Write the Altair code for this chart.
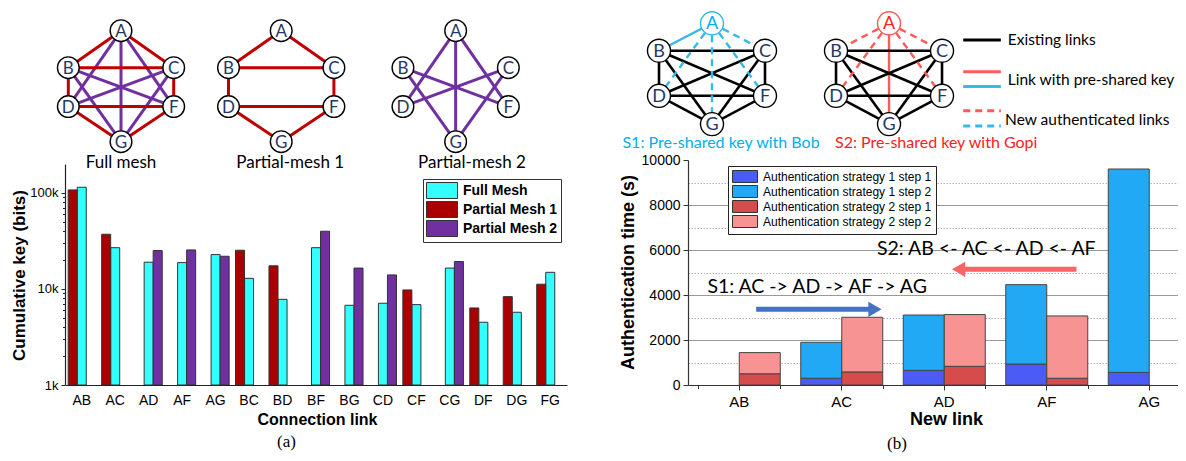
import altair as alt
import pandas as pd

# ---------------- panel (a): cumulative key per connection link ----------------
LINKS_A = ["AB", "AC", "AD", "AF", "AG", "BC", "BD", "BF", "BG", "CD", "CF", "CG", "DF", "DG", "FG"]
FULL_MESH = [114600, 26900, 19000, 18800, 22800, 12900, 7800, 26900, 6760, 7100, 6870, 16500, 4500, 5720, 14900]
PARTIAL_MESH_1 = [107500, 37100, None, None, None, 25300, 17400, None, None, None, 9770, None, 6340, 8320, 11200]
PARTIAL_MESH_2 = [None, None, 25100, 25500, 21900, None, None, 39900, 16500, 14000, None, 19300, None, None, None]
SERIES_A = ["Full Mesh", "Partial Mesh 1", "Partial Mesh 2"]
SLOT_ORDER_A = ["Partial Mesh 1", "Full Mesh", "Partial Mesh 2"]
COLORS_A = ["#33FFFF", "#AA0000", "#7030A0"]
Y_TICKS_A = [1000, 10000, 100000]
Y_MINOR_A = [2000, 3000, 4000, 5000, 6000, 7000, 8000, 9000,
             20000, 30000, 40000, 50000, 60000, 70000, 80000, 90000]

# ---------------- panel (b): authentication time per new link ----------------
LINKS_B = ["AB", "AC", "AD", "AF", "AG"]
S1_STEP1 = [None, 300, 650, 930, 560]
S1_STEP2 = [None, 1600, 2460, 3530, 9040]
S2_STEP1 = [500, 580, 830, 300, None]
S2_STEP2 = [940, 2430, 2300, 2770, None]
STRATEGIES = ["Strategy 1", "Strategy 2"]
SERIES_B = ["Authentication strategy 1 step 1", "Authentication strategy 1 step 2",
            "Authentication strategy 2 step 1", "Authentication strategy 2 step 2"]
COLORS_B = ["#4B5CF6", "#22A9F6", "#D64B4B", "#F79393"]
Y_TICKS_B = [0, 2000, 4000, 6000, 8000, 10000]
Y_GRID_B = [2000, 4000, 6000, 8000]
Y_MINOR_B = [1000, 3000, 5000, 7000, 9000]
ROUTE_TEXT = ["S1: AC -> AD -> AF -> AG", "S2: AB <- AC <- AD <- AF"]
ROUTE_TEXT_X = [1.76, 3.41]
ROUTE_TEXT_Y = [4370, 6030]
ARROW_FROM = [1.165, 4.29]
ARROW_TO = [2.394, 3.07]
ARROW_Y = [3364, 5142]
ROUTE_COLORS = ["#4472C4", "#FA6464"]

# ---------------- network diagrams ----------------
NODES = ["A", "B", "C", "D", "F", "G"]
LEFT_LAYOUT_X = [0, -1, 1, -1, 1, 0]
LEFT_LAYOUT_Y = [0, 1, 1, 2.05, 2.05, 3]
MESH_NAMES = ["Full mesh", "Partial-mesh 1", "Partial-mesh 2"]
MESH_X = [0, 3.04, 6.35]
MESH_CAPTION_X = [0, 3.21, 6.66]
MESH_CAPTION_Y = [3.58, 3.58, 3.58]
MESH_RED = "#C00000"
MESH_PURPLE = "#7030A0"

RIGHT_LAYOUT_X = [0, -1, 1, -1, 1, 0]
RIGHT_LAYOUT_Y = [0, 0.98, 0.98, 2.59, 2.59, 3.6]
STRATEGY_X = [0, 3.34]
STRATEGY_LINE_COLORS = ["#35B9EC", "#FF5A5A"]
STRATEGY_CAPTIONS = ["S1: Pre-shared key with Bob", "S2: Pre-shared key with Gopi"]
STRATEGY_CAPTION_COLORS = ["#00B0F0", "#FF2020"]
STRATEGY_CAPTION_X = [0.17, 4.23]
STRATEGY_CAPTION_Y = [4.28, 4.28]
KEY_LABELS = ["Existing links", "Link with pre-shared key", "New authenticated links"]
KEY_LABEL_Y = [0.6, 2.03, 3.45]
KEY_LABEL_X = [5.58, 5.58, 5.53]
KEY_LINE_Y = [0.6, 1.73, 2.26, 3.12, 3.67]
KEY_LINE_COLORS = ["black", "#FF5A5A", "#35B9EC", "#FF5A5A", "#35B9EC"]
KEY_LINE_DASHED = [False, False, False, True, True]
KEY_LINE_X = [4.74, 5.45]
PANEL_LABELS = ["(a)", "(b)"]
PANEL_LABEL_X = [3.14, 3.49]
PANEL_LABEL_Y = [11.12, 15.02]

NAVY = "#1F3864"
SANS = "Liberation Sans"
CAL = "Lato"
SERIF = "Liberation Serif"

# ============ tables ============
rows = []
for i, link in enumerate(LINKS_A):
    for name, vals in zip(SERIES_A, [FULL_MESH, PARTIAL_MESH_1, PARTIAL_MESH_2]):
        if vals[i] is not None:
            rows.append({"link": link, "series": name, "key": vals[i]})
dfA = pd.DataFrame(rows)

rows = []
for i, link in enumerate(LINKS_B):
    for s, steps in enumerate([(S1_STEP1, S1_STEP2), (S2_STEP1, S2_STEP2)]):
        for k, vals in enumerate(steps):
            if vals[i] is not None:
                rows.append({"link": link, "strategy": STRATEGIES[s], "step": k + 1,
                             "series": SERIES_B[2 * s + k], "time": vals[i]})
dfB = pd.DataFrame(rows)

# mesh diagrams (links come from which series has a bar)
pm1_links = [l for l, v in zip(LINKS_A, PARTIAL_MESH_1) if v is not None]
pm2_links = [l for l, v in zip(LINKS_A, PARTIAL_MESH_2) if v is not None]
mesh_links = [LINKS_A, pm1_links, pm2_links]
rows = []
for g, links in enumerate(mesh_links):
    for l in links:
        a, b = NODES.index(l[0]), NODES.index(l[1])
        rows.append({"x": MESH_X[g] + LEFT_LAYOUT_X[a], "y": LEFT_LAYOUT_Y[a],
                     "x2": MESH_X[g] + LEFT_LAYOUT_X[b], "y2": LEFT_LAYOUT_Y[b],
                     "color": MESH_RED if l in pm1_links else MESH_PURPLE})
edgesA = pd.DataFrame(rows)
nodesA = pd.DataFrame([{"x": MESH_X[g] + LEFT_LAYOUT_X[n], "y": LEFT_LAYOUT_Y[n], "label": NODES[n]}
                       for g in range(3) for n in range(6)])
capsA = pd.DataFrame({"x": MESH_CAPTION_X, "y": MESH_CAPTION_Y, "text": MESH_NAMES})
pnlA = pd.DataFrame({"x": [PANEL_LABEL_X[0]], "y": [PANEL_LABEL_Y[0]], "text": [PANEL_LABELS[0]]})

# strategy diagrams
rows = []
for s, strat_vals in enumerate([S1_STEP1, S2_STEP1]):
    new_links = [l for l, v in zip(LINKS_B, strat_vals) if v is not None]
    for l in LINKS_A:
        a, b = NODES.index(l[0]), NODES.index(l[1])
        if "A" in l:
            color = STRATEGY_LINE_COLORS[s]
            dashed = l in new_links
        else:
            color, dashed = "black", False
        rows.append({"x": STRATEGY_X[s] + RIGHT_LAYOUT_X[a], "y": RIGHT_LAYOUT_Y[a],
                     "x2": STRATEGY_X[s] + RIGHT_LAYOUT_X[b], "y2": RIGHT_LAYOUT_Y[b],
                     "color": color, "dashed": dashed, "w": 2.6 if color == "black" else 2.4})
for k in range(5):
    rows.append({"x": KEY_LINE_X[0], "y": KEY_LINE_Y[k], "x2": KEY_LINE_X[1], "y2": KEY_LINE_Y[k],
                 "color": KEY_LINE_COLORS[k], "dashed": KEY_LINE_DASHED[k], "w": 3.0})
edgesB = pd.DataFrame(rows)
nodesB = pd.DataFrame([{"x": STRATEGY_X[s] + RIGHT_LAYOUT_X[n], "y": RIGHT_LAYOUT_Y[n], "label": NODES[n],
                        "stroke": STRATEGY_LINE_COLORS[s] if NODES[n] == "A" else "black",
                        "tcolor": STRATEGY_CAPTION_COLORS[s] if NODES[n] == "A" else NAVY}
                       for s in range(2) for n in range(6)])
capsB = pd.DataFrame({"x": STRATEGY_CAPTION_X, "y": STRATEGY_CAPTION_Y, "text": STRATEGY_CAPTIONS,
                      "color": STRATEGY_CAPTION_COLORS})
keyB = pd.DataFrame({"x": KEY_LABEL_X, "y": KEY_LABEL_Y, "text": KEY_LABELS})
pnlB = pd.DataFrame({"x": [PANEL_LABEL_X[1]], "y": [PANEL_LABEL_Y[1]], "text": [PANEL_LABELS[1]]})

routes = pd.DataFrame({"text": ROUTE_TEXT, "tx": ROUTE_TEXT_X, "ty": ROUTE_TEXT_Y,
                       "from": ARROW_FROM, "to": ARROW_TO, "y": ARROW_Y, "color": ROUTE_COLORS})

# ============ diagram (a) ============
dxA = alt.Scale(domain=[-1, 7.5], range=[60.3, 508.25])
dyA = alt.Scale(domain=[0, 3], range=[22.7, 133.7])
XA = alt.X("x:Q", scale=dxA, axis=None)
YA = alt.Y("y:Q", scale=dyA, axis=None)
diagA = alt.layer(
    alt.Chart(edgesA).mark_rule(strokeWidth=3).encode(
        x=XA, y=YA, x2="x2:Q", y2="y2:Q", color=alt.Color("color:N", scale=None)),
    alt.Chart(nodesA).mark_circle(color="white", stroke="black", strokeWidth=1.4, opacity=1, size=470).encode(
        x=XA, y=YA),
    alt.Chart(nodesA).mark_text(font=CAL, fontSize=17, color=NAVY, baseline="middle", align="center", dy=1).encode(
        x=XA, y=YA, text="label:N"),
    alt.Chart(capsA).mark_text(font=CAL, fontSize=17, color="black", baseline="middle", align="center").encode(
        x=XA, y=YA, text="text:N"),
    alt.Chart(pnlA).mark_text(font=SERIF, fontSize=17, color="black", baseline="middle", align="center").encode(
        x=XA, y=YA, text="text:N"),
)

# ============ chart (a) ============
xA = alt.X("link:N", sort=LINKS_A, title="Connection link",
           scale=alt.Scale(range=[57, 559], paddingInner=0.19, paddingOuter=0.095),
           axis=alt.Axis(orient="bottom", offset=-68, tickSize=0, domainColor="#222", domainWidth=1.2,
                         labelAngle=0, labelFont=SANS, labelFontSize=14, labelColor="black",
                         labelBaseline="middle", labelPadding=15,
                         titleFont=SANS, titleFontSize=16, titleFontWeight="bold", titleColor="black",
                         titleX=309, titleY=34, titleBaseline="middle", titleAlign="center", zindex=2))
yA = alt.Y("key:Q", title="Cumulative key (bits)",
           scale=alt.Scale(type="log", domain=[1000, 200000], range=[377, 156], nice=False),
           axis=alt.Axis(orient="left", offset=-57, values=Y_TICKS_A,
                         labelExpr="format(datum.value / 1000, 'd') + 'k'",
                         tickSize=4, tickColor="#222", domainColor="#222", domainWidth=1.2, grid=False,
                         labelFont=SANS, labelFontSize=13, labelColor="black", labelPadding=3,
                         titleFont=SANS, titleFontSize=17, titleFontWeight="bold", titleColor="black",
                         titleX=-46, titleY=267, titleAngle=-90, titleAlign="center", titleBaseline="middle",
                         zindex=2))
barsA = alt.Chart(dfA).mark_bar(stroke="#333", strokeWidth=1).encode(
    x=xA,
    xOffset=alt.XOffset("series:N", sort=SLOT_ORDER_A,
                        scale=alt.Scale(domain=SLOT_ORDER_A, paddingInner=0, paddingOuter=0)),
    y=yA,
    y2=alt.datum(1000),
    color=alt.Color("series:N", scale=alt.Scale(domain=SERIES_A, range=COLORS_A),
                    legend=alt.Legend(orient="none", legendX=415, legendY=171, title=None,
                                      strokeColor="#333", fillColor="white", padding=3,
                                      symbolType="M-1,-1L2.875,-1L2.875,1L-1,1Z", symbolSize=256,
                                      symbolStrokeColor="#333", symbolStrokeWidth=1, symbolOpacity=1,
                                      labelFont=SANS, labelFontSize=14, labelFontWeight="bold",
                                      labelColor="black", labelOffset=20, labelLimit=0, rowPadding=-2.5)),
)
minorA = alt.Chart(dfA).mark_bar(opacity=0).encode(
    y=alt.Y("key:Q", axis=alt.Axis(orient="left", offset=-57, values=Y_MINOR_A, labels=False,
                                   domain=False, tickSize=2.5, tickColor="#222", grid=False, title=None)),
    y2=alt.datum(1000),
)
chartA = alt.layer(barsA, minorA).resolve_axis(y="independent")

# ============ diagram (b) ============
dxB = alt.Scale(domain=[-1, 6], range=[651, 1022])
dyB = alt.Scale(domain=[0, 4], range=[15.3, 127.3])
XB = alt.X("x:Q", scale=dxB, axis=None)
YB = alt.Y("y:Q", scale=dyB, axis=None)
diagB = alt.layer(
    alt.Chart(edgesB).transform_filter("!datum.dashed").mark_rule().encode(
        x=XB, y=YB, x2="x2:Q", y2="y2:Q", color=alt.Color("color:N", scale=None),
        strokeWidth=alt.StrokeWidth("w:Q", scale=None)),
    alt.Chart(edgesB).transform_filter("datum.dashed").mark_rule(strokeDash=[7, 5]).encode(
        x=XB, y=YB, x2="x2:Q", y2="y2:Q", color=alt.Color("color:N", scale=None),
        strokeWidth=alt.StrokeWidth("w:Q", scale=None)),
    alt.Chart(nodesB).mark_circle(color="white", strokeWidth=1.4, opacity=1, size=530).encode(
        x=XB, y=YB, stroke=alt.Stroke("stroke:N", scale=None)),
    alt.Chart(nodesB).mark_text(font=CAL, fontSize=18, baseline="middle", align="center", dy=1).encode(
        x=XB, y=YB, text="label:N", color=alt.Color("tcolor:N", scale=None)),
    alt.Chart(capsB).mark_text(font=CAL, fontSize=16, baseline="middle", align="center").encode(
        x=XB, y=YB, text="text:N", color=alt.Color("color:N", scale=None)),
    alt.Chart(keyB).mark_text(font=CAL, fontSize=15.5, baseline="middle", align="left", color="black").encode(
        x=XB, y=YB, text="text:N"),
    alt.Chart(pnlB).mark_text(font=SERIF, fontSize=17, baseline="middle", align="center",
                              color="black").encode(x=XB, y=YB, text="text:N"),
)

# ============ chart (b) ============
xB_enc = alt.X("link:N", sort=LINKS_B, title="New link",
               scale=alt.Scale(range=[680, 1192.5], paddingInner=0.2, paddingOuter=0.1),
               axis=alt.Axis(orient="bottom", offset=-68, tickSize=5, tickColor="#333", domainColor="#333",
                             domainWidth=1.2, labelAngle=0, labelFont=SANS, labelFontSize=15,
                             labelColor="black", labelBaseline="middle", labelPadding=11,
                             titleFont=SANS, titleFontSize=18, titleFontWeight="bold", titleColor="black",
                             titleX=938, titleY=34, titleBaseline="middle", titleAlign="center", zindex=2))
yB_enc = alt.Y("y0:Q", title="Authentication time (s)",
               scale=alt.Scale(domain=[0, 10000], range=[377, 152], nice=False),
               axis=alt.Axis(orient="left", offset=-680, values=Y_TICKS_B, format="d", tickSize=5,
                             tickColor="#333", domainColor="#333", domainWidth=1.2, grid=False,
                             labelFont=SANS, labelFontSize=14, labelColor="black", labelPadding=3,
                             titleFont=SANS, titleFontSize=18, titleFontWeight="bold", titleColor="black",
                             titleX=-60, titleY=264, titleAngle=-90, titleAlign="center",
                             titleBaseline="middle", zindex=2))
barsB = alt.Chart().mark_bar(stroke="#444", strokeWidth=1).encode(
    x=xB_enc,
    xOffset=alt.XOffset("strategy:N", sort=STRATEGIES,
                        scale=alt.Scale(domain=STRATEGIES, paddingInner=0, paddingOuter=0)),
    y=yB_enc,
    y2="y1:Q",
    color=alt.Color("series:N", scale=alt.Scale(domain=SERIES_B, range=COLORS_B),
                    legend=alt.Legend(orient="none", legendX=720, legendY=158, title=None,
                                      strokeColor="#222", fillColor="white", padding=4,
                                      symbolType="M-1,-1L3.1667,-1L3.1667,1L-1,1Z", symbolSize=144,
                                      symbolStrokeColor="#333", symbolStrokeWidth=1, symbolOpacity=1,
                                      labelFont=SANS, labelFontSize=12, labelColor="black",
                                      labelOffset=18, labelLimit=0, rowPadding=-2.1)),
)
gridB = alt.Chart().mark_bar(opacity=0).encode(
    x=alt.X("link:N", sort=LINKS_B,
            axis=alt.Axis(orient="bottom", offset=-68, tickBand="extent", tickSize=3.5, tickColor="#333",
                          labels=False, domain=False, title=None, grid=False)),
    y=alt.Y("y0:Q", axis=alt.Axis(orient="left", offset=-680, values=Y_GRID_B, grid=True,
                                  gridColor="#9A9A9A", gridWidth=1, ticks=False, labels=False,
                                  domain=False, title=None, zindex=0)),
    y2="y1:Q",
)
minorB = alt.Chart().mark_bar(opacity=0).encode(
    x=alt.X("link:N", sort=LINKS_B, axis=None),
    y=alt.Y("y0:Q", axis=alt.Axis(orient="left", offset=-680, values=Y_MINOR_B, grid=True,
                                  gridColor="#B5B5B5", gridDash=[1.5, 1.5], gridWidth=1, ticks=False,
                                  labels=False, domain=False, title=None, zindex=0)),
    y2="y1:Q",
)
chartB = alt.layer(gridB, minorB, barsB, data=dfB).transform_stack(
    stack="time", groupby=["link", "strategy"], as_=["y0", "y1"],
    sort=[alt.SortField("step", order="ascending")]
).resolve_axis(x="independent", y="independent")

# ============ annotations on chart (b) ============
axB = alt.Scale(domain=[0.5, 5.5], range=[680, 1192.5])
ayB = alt.Scale(domain=[0, 10000], range=[377, 152], nice=False)
arrows_base = alt.Chart(routes).transform_calculate(
    neck="datum.to - (datum.to > datum.from ? 1 : -1) * 0.07",
    shape="datum.to > datum.from ? 'triangle-right' : 'triangle-left'")
annB = alt.layer(
    arrows_base.mark_rule(strokeWidth=5, strokeCap="butt").encode(
        x=alt.X("from:Q", scale=axB, axis=None), x2="neck:Q",
        y=alt.Y("y:Q", scale=ayB, axis=None), color=alt.Color("color:N", scale=None)),
    arrows_base.mark_point(filled=True, size=230, opacity=1).encode(
        x=alt.X("neck:Q", scale=axB, axis=None), y=alt.Y("y:Q", scale=ayB, axis=None),
        shape=alt.Shape("shape:N", scale=None), color=alt.Color("color:N", scale=None)),
    alt.Chart(routes).mark_text(font=CAL, fontSize=19.5, color="black", baseline="middle", align="center").encode(
        x=alt.X("tx:Q", scale=axB, axis=None), y=alt.Y("ty:Q", scale=ayB, axis=None), text="text:N"),
)

chart = alt.layer(diagA, chartA, diagB, chartB, annB).resolve_scale(
    x="independent", y="independent", color="independent", xOffset="independent"
).properties(
    width=1170, height=445, autosize=alt.AutoSizeParams(type="none"), padding=0
).configure_view(stroke=None)

chart.save("out.html", embed_options={"renderer": "svg", "actions": False})
